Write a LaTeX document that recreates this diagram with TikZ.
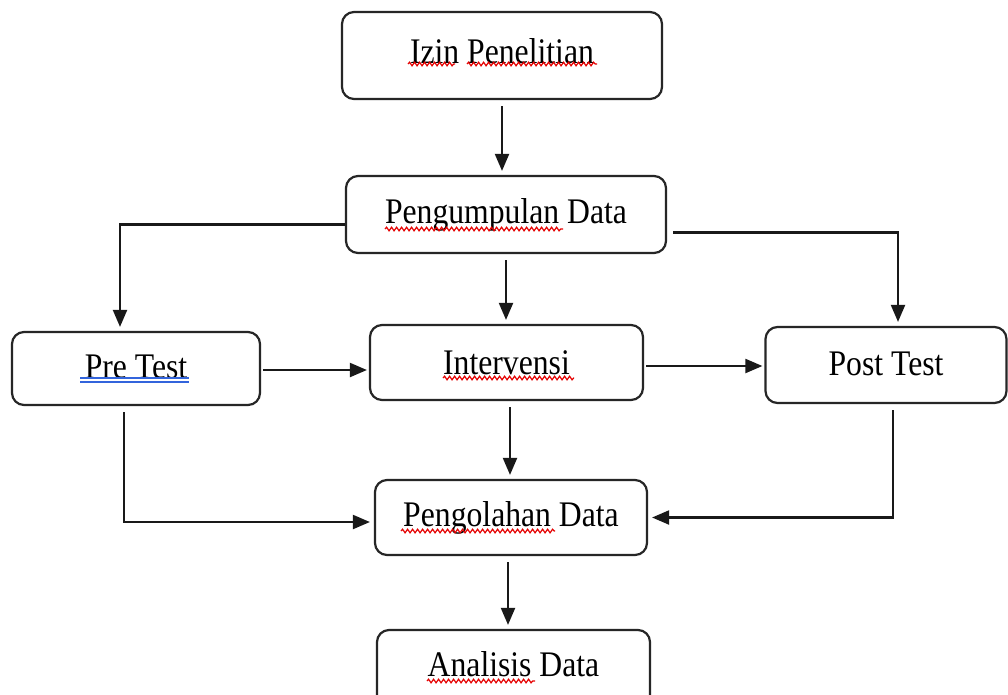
\documentclass[tikz,border=0pt]{standalone}
\usepackage{fontspec}
\setmainfont{Liberation Serif}[FakeStretch=0.88]
\usetikzlibrary{arrows.meta,decorations.pathmorphing}
\tikzset{
  box/.style={draw=black!85, line width=2.2pt, rounded corners=12pt, fill=white,
    align=center, inner sep=0pt, font=\fontsize{36}{40}\selectfont},
  conn/.style={line width=2.1pt, draw=black!90, -{Triangle[length=17pt,width=14pt]},
    shorten <=6pt, shorten >=4pt},
  spell/.style={draw=red!90!black, line width=1.2pt, decorate,
    decoration={snake, segment length=5pt, amplitude=1.8pt}},
  grammar/.style={draw={rgb,255:red,50;green,100;blue,220}, line width=1.3pt}
}
\begin{document}
\begin{tikzpicture}[x=1pt,y=-1pt]
\useasboundingbox (0,0) rectangle (1008,694);
\fill[white] (0,0) rectangle (1008,694);
\node[box, minimum width=320pt, minimum height=87pt] (izin) at (502,55.5) {\raisebox{9pt}{Izin Penelitian}};
\node[box, minimum width=320pt, minimum height=77pt] (peng) at (506,214.5) {Pengumpulan Data};
\node[box, minimum width=248pt, minimum height=73pt] (pre) at (136,368.5) {\raisebox{4pt}{Pre Test}};
\node[box, minimum width=273pt, minimum height=75pt] (interv) at (506.5,362.5) {Intervensi};
\node[box, minimum width=241pt, minimum height=76pt] (post) at (886,365) {\raisebox{3pt}{Post Test}};
\node[box, minimum width=272pt, minimum height=75pt] (olah) at (511,517.5) {Pengolahan Data};
\node[box, minimum width=273pt, minimum height=90pt] (anal) at (513.5,675) {};
\node[font=\fontsize{36}{40}\selectfont, inner sep=0pt] (analt) at (513.5,664) {Analisis Data};

% connectors
\draw[conn] (izin.south) -- (izin.south |- peng.north);
\draw[conn, shorten <=0pt] ([yshift=-10pt]peng.west) -| ([xshift=-16pt]pre.north);
\draw[conn] (peng.south) -- (peng.south |- interv.north);
\draw[conn, shorten <=6pt] ([yshift=-18pt]peng.east) -| ([xshift=12pt]post.north);
\draw[conn, shorten <=2pt, shorten >=2pt] ([yshift=-1.5pt]pre.east) -- ([yshift=-1.5pt]pre.east -| interv.west);
\draw[conn, shorten <=2pt, shorten >=2pt] ([yshift=-3.5pt]interv.east) -- ([yshift=-3.5pt]interv.east -| post.west);
\draw[conn] ([xshift=3.5pt]interv.south) -- ([xshift=3.5pt]interv.south |- olah.north);
\draw[conn] ([xshift=-12pt]pre.south) |- ([yshift=-4.5pt]olah.west);
\draw[conn] ([xshift=7pt]post.south) |- (olah.east);
\draw[conn] ([xshift=-3pt]olah.south) -- ([xshift=-3pt]olah.south |- anal.north);

% spell-check underlines
\draw[spell] (408,64) -- (455,64);
\draw[spell] (467,64) -- (597,64);
\draw[spell] (385,229) -- (563,229);
\draw[spell] (443,378) -- (574,378);
\draw[spell] (401,531) -- (555,531);
\draw[spell] (427,681) -- (535,681);
\draw[grammar] (80,378) -- (189,378);
\draw[grammar] (80,382) -- (189,382);
\end{tikzpicture}
\end{document}
